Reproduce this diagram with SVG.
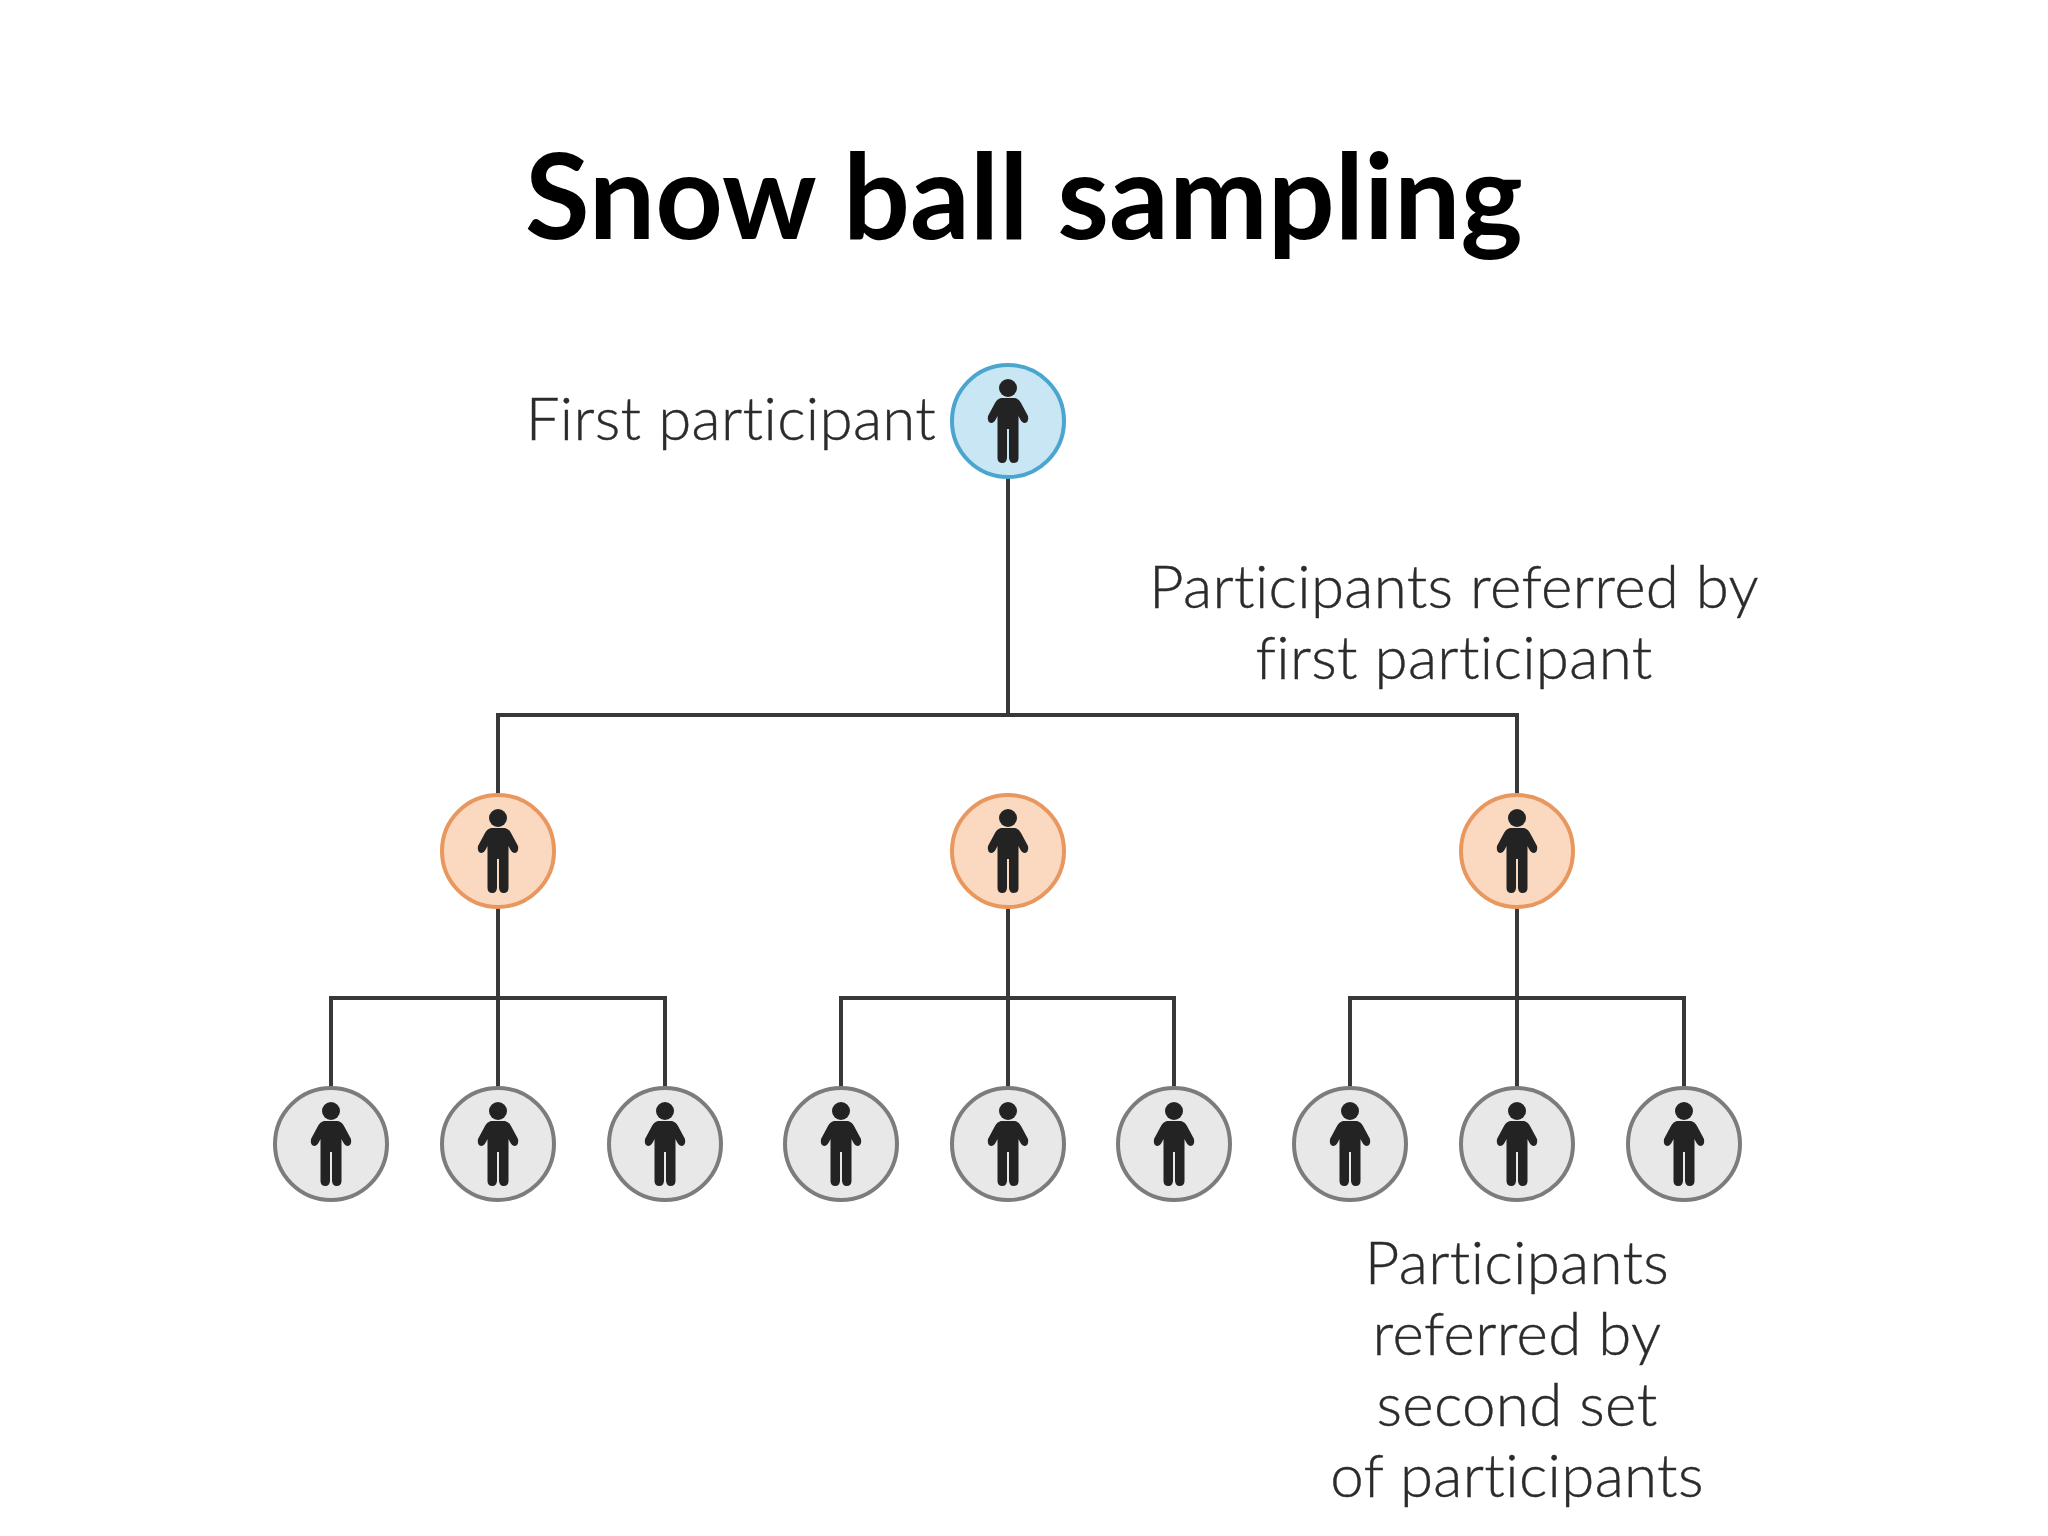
<svg xmlns="http://www.w3.org/2000/svg" width="2048" height="1536" viewBox="0 0 2048 1536">
<style>
.title{font-family:"Lato","Liberation Sans",sans-serif;font-weight:700;font-size:118px;fill:#000;text-anchor:middle}
.lbl{font-family:"Lato","Liberation Sans",sans-serif;font-weight:300;font-size:60px;fill:#2b2b2b;text-anchor:middle;font-variant-ligatures:none;letter-spacing:.35px;stroke:#2b2b2b;stroke-width:.4px}
.conn{fill:none;stroke:#383838;stroke-width:4}
.blue{fill:#c9e6f4;stroke:#4aa6cf;stroke-width:4}
.orange{fill:#fbd9c0;stroke:#e8975f;stroke-width:4}
.grey{fill:#e8e8e8;stroke:#7c7c7c;stroke-width:4}
.p{fill:#232323}
</style>
<defs>
<g id="person">
<circle class="p" cx="0" cy="-33" r="9"/>
<path class="p" d="M-7,-23 L7,-23 Q11,-22 13,-18 L20,-5 Q21,1 17,2 Q14,2 12,-2 L10.5,-5 L10.5,37 Q10.5,42 5.5,42 Q1.5,42 1,37 L1,8 L-1,8 L-1,37 Q-1.5,42 -5.5,42 Q-10.5,42 -10.5,37 L-10.5,-5 L-12,-2 Q-14,2 -17,2 Q-21,1 -20,-5 L-13,-18 Q-11,-22 -7,-23Z"/>
</g>
</defs>
<rect width="2048" height="1536" fill="#fff"/>
<text class="title" x="1024" y="239">Snow ball sampling</text>
<g id="connectors">
<path class="conn" d="M1008,478V715M498,794V715H1517V794"/>
<path class="conn" d="M498,908V1088M331,1088V998H665V1088"/>
<path class="conn" d="M1008,908V1088M841,1088V998H1174V1088"/>
<path class="conn" d="M1517,908V1088M1350,1088V998H1684V1088"/>
</g>
<g id="n0"><circle class="blue" cx="1008" cy="421" r="56"/><use href="#person" x="1008" y="421"/></g>
<g id="n1"><circle class="orange" cx="498" cy="851" r="56"/><use href="#person" x="498" y="851"/></g>
<g id="n2"><circle class="orange" cx="1008" cy="851" r="56"/><use href="#person" x="1008" y="851"/></g>
<g id="n3"><circle class="orange" cx="1517" cy="851" r="56"/><use href="#person" x="1517" y="851"/></g>
<g id="n4"><circle class="grey" cx="331" cy="1144" r="56"/><use href="#person" x="331" y="1144"/></g>
<g id="n5"><circle class="grey" cx="498" cy="1144" r="56"/><use href="#person" x="498" y="1144"/></g>
<g id="n6"><circle class="grey" cx="665" cy="1144" r="56"/><use href="#person" x="665" y="1144"/></g>
<g id="n7"><circle class="grey" cx="841" cy="1144" r="56"/><use href="#person" x="841" y="1144"/></g>
<g id="n8"><circle class="grey" cx="1008" cy="1144" r="56"/><use href="#person" x="1008" y="1144"/></g>
<g id="n9"><circle class="grey" cx="1174" cy="1144" r="56"/><use href="#person" x="1174" y="1144"/></g>
<g id="n10"><circle class="grey" cx="1350" cy="1144" r="56"/><use href="#person" x="1350" y="1144"/></g>
<g id="n11"><circle class="grey" cx="1517" cy="1144" r="56"/><use href="#person" x="1517" y="1144"/></g>
<g id="n12"><circle class="grey" cx="1684" cy="1144" r="56"/><use href="#person" x="1684" y="1144"/></g>
<text class="lbl" x="731" y="440">First participant</text>
<text class="lbl" x="1454" y="608">Participants referred by</text>
<text class="lbl" x="1454" y="679">first participant</text>
<text class="lbl" x="1517" y="1284">Participants</text>
<text class="lbl" x="1517" y="1355">referred by</text>
<text class="lbl" x="1517" y="1426">second set</text>
<text class="lbl" x="1517" y="1497">of participants</text>
</svg>
